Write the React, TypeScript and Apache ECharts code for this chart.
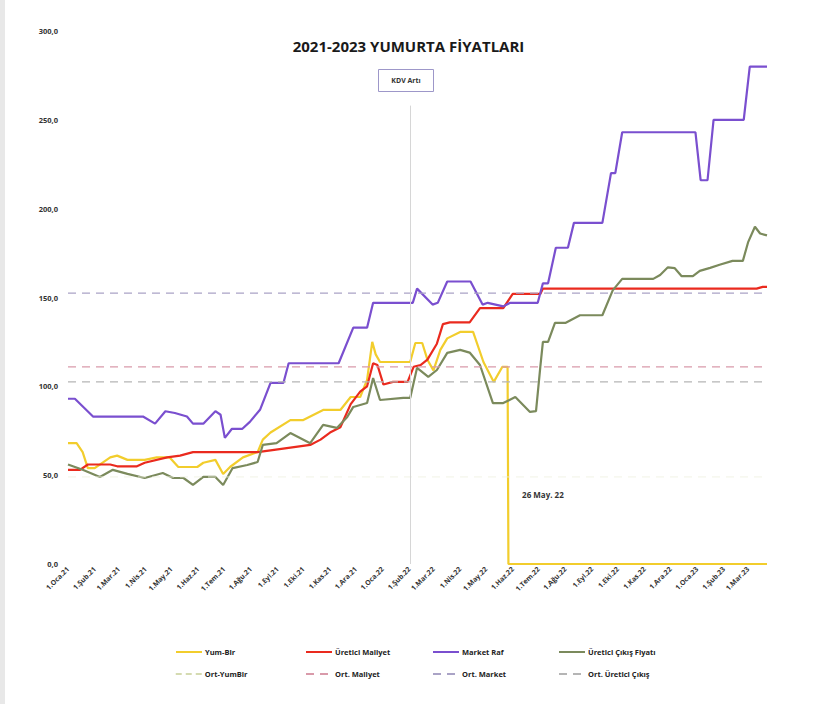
import React, { useEffect, useRef } from "react";
import * as echarts from "echarts";

const START_DATE = "2021-01-01";
const END_DATE = "2023-03-23";
const monthNames = ["Oca", "Şub", "Mar", "Nis", "May", "Haz", "Tem", "Ağu", "Eyl", "Eki", "Kas", "Ara"];

const titleText = "2021-2023 YUMURTA FİYATLARI";
const kdvDate = "2022-02-02";
const kdvLabel = "KDV Artı";
const dropDate = "2022-05-26";
const dropLabel = "26 May. 22";

const yumBirDates = [
  "2021-01-01", "2021-01-11", "2021-01-18", "2021-01-24", "2021-02-01", "2021-02-19", "2021-02-27",
  "2021-03-11", "2021-03-31", "2021-04-14", "2021-04-29", "2021-05-09", "2021-05-31", "2021-06-07",
  "2021-06-21", "2021-06-30", "2021-07-08", "2021-07-23", "2021-08-09", "2021-08-15", "2021-08-24",
  "2021-09-16", "2021-10-01", "2021-10-24", "2021-11-13", "2021-11-25", "2021-12-06", "2021-12-14",
  "2021-12-20", "2021-12-24", "2021-12-29", "2022-02-02", "2022-02-08", "2022-02-16", "2022-02-22",
  "2022-03-01", "2022-03-09", "2022-03-17", "2022-04-01", "2022-04-16", "2022-04-28", "2022-05-10",
  "2022-05-20", "2022-05-26", "2022-05-27", "2023-03-23",
];
const yumBirValues = [
  68, 68, 63, 54, 54, 60, 61,
  58.6, 58.6, 60, 60, 54.6, 54.6, 57,
  58.6, 50.7, 54.6, 60, 63, 70, 74,
  81, 81, 86.7, 86.7, 94, 94, 103.6,
  125, 118, 113.7, 113.7, 124.4, 124.4, 115,
  109, 120.5, 127, 130.6, 130.6, 113.7, 102.5,
  111, 111, 0, 0,
];

const maliyetDates = [
  "2021-01-01", "2021-01-15", "2021-01-24", "2021-02-19", "2021-02-27", "2021-03-22", "2021-03-31",
  "2021-04-26", "2021-05-11", "2021-05-26", "2021-08-09", "2021-08-24", "2021-09-16", "2021-10-09",
  "2021-10-21", "2021-11-01", "2021-11-13", "2021-11-25", "2021-12-06", "2021-12-14", "2021-12-21",
  "2021-12-26", "2022-01-02", "2022-01-13", "2022-01-30", "2022-02-06", "2022-02-14", "2022-02-22",
  "2022-03-05", "2022-03-12", "2022-03-20", "2022-04-12", "2022-04-24", "2022-05-21", "2022-06-01",
  "2022-07-03", "2022-07-06", "2023-03-11", "2023-03-18", "2023-03-23",
];
const maliyetValues = [
  53, 53, 56, 56, 55, 55, 57,
  60, 61, 63, 63, 64, 65.5, 67,
  70, 74, 77, 90, 97, 100, 113,
  112, 101, 102.5, 102.5, 111, 112, 115,
  124, 135, 136, 136, 144, 144, 152,
  152, 155, 155, 156, 156,
];

const marketDates = [
  "2021-01-01", "2021-01-09", "2021-01-30", "2021-03-29", "2021-04-12", "2021-04-24", "2021-05-05",
  "2021-05-19", "2021-05-26", "2021-06-07", "2021-06-21", "2021-06-27", "2021-07-02", "2021-07-10",
  "2021-07-22", "2021-07-31", "2021-08-12", "2021-08-24", "2021-09-08", "2021-09-14", "2021-11-11",
  "2021-11-28", "2021-12-14", "2021-12-21", "2022-02-05", "2022-02-10", "2022-02-28", "2022-03-06",
  "2022-03-17", "2022-04-13", "2022-04-27", "2022-05-03", "2022-05-21", "2022-05-29", "2022-06-30",
  "2022-07-06", "2022-07-12", "2022-07-21", "2022-08-04", "2022-08-11", "2022-09-13", "2022-09-23",
  "2022-09-28", "2022-10-06", "2022-12-30", "2023-01-05", "2023-01-13", "2023-01-20", "2023-02-24",
  "2023-03-03", "2023-03-23",
];
const marketValues = [
  93, 93, 83, 83, 79, 86, 85,
  83, 79, 79, 86, 84, 71, 76,
  76, 80, 87, 102, 102, 113, 113,
  133, 133, 147, 147, 155, 146, 147,
  159, 159, 146, 147, 145, 147, 147,
  158, 158, 178, 178, 192, 192, 220,
  220, 243, 243, 216, 216, 250, 250,
  280, 280,
];

const cikisDates = [
  "2021-01-01", "2021-01-18", "2021-02-07", "2021-02-22", "2021-03-11", "2021-03-31", "2021-04-21",
  "2021-05-03", "2021-05-15", "2021-05-26", "2021-06-07", "2021-06-21", "2021-06-30", "2021-07-11",
  "2021-07-28", "2021-08-09", "2021-08-15", "2021-08-31", "2021-09-16", "2021-10-09", "2021-10-24",
  "2021-11-09", "2021-11-21", "2021-11-28", "2021-12-14", "2021-12-21", "2021-12-29", "2022-01-25",
  "2022-02-02", "2022-02-10", "2022-02-23", "2022-03-05", "2022-03-17", "2022-04-01", "2022-04-12",
  "2022-04-24", "2022-05-09", "2022-05-21", "2022-06-04", "2022-06-21", "2022-06-28", "2022-07-03",
  "2022-07-06", "2022-07-12", "2022-07-20", "2022-08-01", "2022-08-18", "2022-09-13", "2022-09-25",
  "2022-10-06", "2022-11-11", "2022-11-19", "2022-11-28", "2022-12-06", "2022-12-14", "2022-12-27",
  "2023-01-04", "2023-01-16", "2023-01-27", "2023-02-11", "2023-02-23", "2023-03-01", "2023-03-09",
  "2023-03-15", "2023-03-23",
];
const cikisValues = [
  56, 53, 49, 53, 50.7, 48.4, 51.2,
  48.4, 48.4, 44.5, 49, 49, 44.5, 54,
  55.7, 57.4, 67, 68, 73.7, 68, 78.3,
  76.6, 82.8, 88.4, 90.6, 104.7, 92.3, 93.5,
  93.5, 110.4, 105.3, 109.2, 118.8, 120.5, 119,
  112, 90.6, 90.6, 94, 85.6, 86, 111,
  125, 125, 135.7, 135.7, 140, 140, 154,
  160.5, 160.5, 162.7, 167, 166.5, 162, 162,
  165, 166.7, 168.4, 170.6, 170.6, 181, 189.8,
  186, 185,
];

const ortYumBir = 49;
const ortMaliyet = 111;
const ortMarket = 152.5;
const ortCikis = 102.5;

const yTicks = [0, 50, 100, 150, 200, 250, 300];

function buildCategories(): string[] {
  const out: string[] = [];
  const [sy, sm, sd] = START_DATE.split("-").map(Number);
  const [ey, em, ed] = END_DATE.split("-").map(Number);
  let t = Date.UTC(sy, sm - 1, sd);
  const end = Date.UTC(ey, em - 1, ed);
  while (t <= end) {
    out.push(new Date(t).toISOString().slice(0, 10));
    t += 86400000;
  }
  return out;
}

function zip(dates: string[], values: number[]) {
  return dates.map((d, i) => [d, values[i]]);
}

const COLORS = {
  yum: "#f2cd2c",
  maliyet: "#ea2a1e",
  market: "#7a4fcf",
  cikis: "#7b8a5c",
  ortYum: "#c8cf98",
  ortYumLine: "#eef0de",
  ortMaliyet: "#d99aaa",
  ortMarket: "#aaa3c6",
  ortCikis: "#b5b5b5",
};

export default function App() {
  const ref = useRef<HTMLDivElement>(null);

  useEffect(() => {
    if (!ref.current) return;
    const chart = echarts.init(ref.current, undefined, { renderer: "svg" });
    const categories = buildCategories();
    const first = categories[0];
    const last = categories[categories.length - 1];
    const font = "'Open Sans', 'Liberation Sans', sans-serif";

    const mainLine = (name: string, color: string, data: any[], extra: any = {}) => ({
      name,
      type: "line",
      data,
      symbol: "none",
      showSymbol: false,
      lineStyle: { color, width: 2.2 },
      itemStyle: { color },
      emphasis: { disabled: true },
      silent: true,
      ...extra,
    });
    const avgLine = (name: string, color: string, v: number, width = 1.2) => ({
      name,
      type: "line",
      data: [[first, v], [last, v]],
      symbol: "none",
      showSymbol: false,
      lineStyle: { color, width, type: [8, 6] },
      itemStyle: { color },
      emphasis: { disabled: true },
      silent: true,
    });

    const legendCols = [170, 300, 427, 553];
    const legendRows = [643, 665];
    const legendNames = [
      ["Yum-Bir", "Üretici Maliyet", "Market Raf", "Üretici Çıkış Fiyatı"],
      ["Ort-YumBir", "Ort. Maliyet", "Ort. Market", "Ort. Üretici Çıkış"],
    ];
    const legendLineOverride: Record<string, any> = {
      "Ort-YumBir": { color: COLORS.ortYum, width: 1.5, type: [6, 4] },
    };
    const legends: any[] = [];
    legendNames.forEach((row, r) =>
      row.forEach((n, c) =>
        legends.push({
          data: [n],
          left: legendCols[c],
          top: legendRows[r],
          itemWidth: 26,
          itemHeight: 6,
          itemGap: 4,
          selectedMode: false,
          itemStyle: { opacity: 0 },
          ...(legendLineOverride[n] ? { lineStyle: legendLineOverride[n] } : {}),
          textStyle: { fontSize: 7.5, fontWeight: "bold", color: "#222", fontFamily: font, padding: [0, 0, 0, -2] },
        })
      )
    );

    chart.setOption({
      animation: false,
      backgroundColor: "#ffffff",
      title: {
        text: titleText,
        left: "center",
        top: 33,
        textStyle: { fontSize: 15, fontWeight: "bold", color: "#1a1a1a", fontFamily: font },
      },
      legend: legends,
      grid: { left: 68, right: 50, top: 31, bottom: 140, containLabel: false },
      xAxis: {
        type: "category",
        data: categories,
        boundaryGap: false,
        axisLine: { show: false },
        axisTick: { show: false },
        splitLine: { show: false },
        axisLabel: {
          interval: (_i: number, v: string) => v.endsWith("-01"),
          rotate: 45,
          margin: 4,
          fontSize: 7,
          fontWeight: "bold",
          color: "#333",
          fontFamily: font,
          hideOverlap: false,
          formatter: (v: string) => {
            const [y, m] = v.split("-");
            return `1.${monthNames[Number(m) - 1]}.${y.slice(2)}`;
          },
        },
      },
      yAxis: {
        type: "value",
        min: yTicks[0],
        max: yTicks[yTicks.length - 1],
        interval: 50,
        axisLine: { show: false },
        axisTick: { show: false },
        splitLine: { show: false },
        axisLabel: {
          margin: 10,
          fontSize: 7.5,
          fontWeight: "bold",
          color: "#333",
          fontFamily: font,
          formatter: (v: number) => v.toFixed(1).replace(".", ","),
        },
      },
      graphic: [
        { type: "rect", left: 0, top: 0, shape: { width: 5, height: 704 }, style: { fill: "#e8e8e8" }, silent: true },
        {
          type: "group",
          left: 378,
          top: 69,
          children: [
            { type: "rect", shape: { x: 0, y: 0, width: 55, height: 22 }, style: { fill: "#fff", stroke: "#9d97c9", lineWidth: 1 } },
            {
              type: "text",
              x: 27.5,
              y: 11,
              style: { text: kdvLabel, fill: "#333", font: `bold 7px ${font}`, align: "center", verticalAlign: "middle" },
            },
          ],
        },
      ],
      series: [
        mainLine("Yum-Bir", COLORS.yum, zip(yumBirDates, yumBirValues), {
          markPoint: {
            symbol: "circle",
            symbolSize: 1,
            itemStyle: { color: "rgba(0,0,0,0)" },
            silent: true,
            data: [
              {
                coord: [dropDate, 39],
                label: {
                  show: true,
                  position: "right",
                  distance: 14,
                  formatter: dropLabel,
                  fontSize: 8,
                  fontWeight: "bold",
                  color: "#333",
                  fontFamily: font,
                },
              },
            ],
          },
        }),
        mainLine("Üretici Maliyet", COLORS.maliyet, zip(maliyetDates, maliyetValues)),
        mainLine("Market Raf", COLORS.market, zip(marketDates, marketValues), {
          markLine: {
            silent: true,
            symbol: ["none", "none"],
            label: { show: false },
            lineStyle: { color: "#d6d6d6", width: 1, type: "solid" },
            data: [[{ coord: [kdvDate, 258] }, { coord: [kdvDate, 0] }]],
          },
        }),
        mainLine("Üretici Çıkış Fiyatı", COLORS.cikis, zip(cikisDates, cikisValues)),
        avgLine("Ort-YumBir", COLORS.ortYumLine, ortYumBir, 0.8),
        avgLine("Ort. Maliyet", COLORS.ortMaliyet, ortMaliyet),
        avgLine("Ort. Market", COLORS.ortMarket, ortMarket),
        avgLine("Ort. Üretici Çıkış", COLORS.ortCikis, ortCikis),
      ],
    });

    return () => chart.dispose();
  }, []);

  return (
    <div style={{ position: "absolute", left: 0, top: 0, width: 817, height: 704, background: "#fff" }}>
      <div ref={ref} style={{ width: 817, height: 704 }} />
    </div>
  );
}
